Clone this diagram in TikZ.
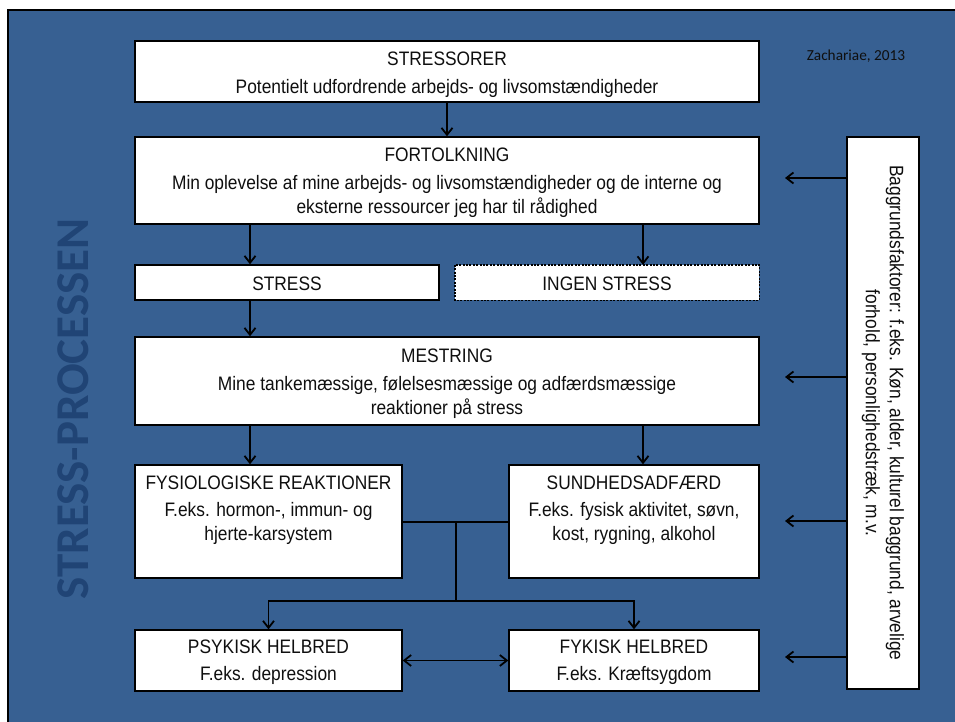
\documentclass[tikz,border=0pt]{standalone}
\usepackage{fontspec}
\setmainfont{Liberation Sans}
\newfontfamily\narrowfont[FakeStretch=0.89]{Liberation Sans}
\newfontfamily\califont{Carlito}
\usetikzlibrary{arrows.meta}
\definecolor{bgblue}{RGB}{55,96,146}
\definecolor{titleblue}{RGB}{32,68,117}
\definecolor{ink}{RGB}{15,15,15}
\tikzset{
  box/.style={draw=black, fill=white, line width=1.4pt, inner sep=0pt},
  boxtext/.style={inner sep=0pt, align=center, text=ink, font=\narrowfont\fontsize{19.5}{24}\selectfont},
  arr/.style={line width=1.8pt, -{Straight Barb[length=7pt,width=11pt,line width=1.8pt]}},
  dblarr/.style={line width=1.8pt, {Straight Barb[length=7pt,width=11pt,line width=1.8pt]}-{Straight Barb[length=7pt,width=11pt,line width=1.8pt]}},
  conn/.style={line width=2pt},
}
\begin{document}
\begin{tikzpicture}[x=1pt,y=-1pt]
\useasboundingbox (0,0) rectangle (955,722);
\fill[white] (0,0) rectangle (955,722);
\draw[fill=bgblue, line width=2.5pt] (8,10) rectangle (975,745);

% title and credit
\node[rotate=90, inner sep=0pt, text=titleblue, font=\califont\bfseries\fontsize{47}{50}\selectfont] (title) at (73,409) {STRESS-PROCESSEN};
\node[inner sep=0pt, text=ink, font=\califont\fontsize{15.3}{18}\selectfont] (zach) at (856,56) {Zachariae, 2013};

% boxes
\node[box, minimum width=624, minimum height=61] (sor) at (447,71.5) {};
\node[boxtext] (sortext) at ([yshift=-3]sor.center) {STRESSORER\\[4pt]Potentielt udfordrende arbejds- og livsomstændigheder};
\node[box, minimum width=624, minimum height=87] (fort) at (447,180.5) {};
\node[boxtext] (forttext) at ([yshift=-2.5]fort.center) {FORTOLKNING\\[4pt]Min oplevelse af mine arbejds- og livsomstændigheder og de interne og\\eksterne ressourcer jeg har til rådighed};
\node[box, minimum width=304, minimum height=35] (stress) at (287,282.5) {};
\node[boxtext] (stresstext) at ([yshift=-1]stress.center) {STRESS};
\node[fill=white, inner sep=0pt, minimum width=304, minimum height=35] (ingen) at (607,282.5) {};
\draw[line width=1.4pt, dash pattern=on 2pt off 1.4pt] (ingen.north west) rectangle (ingen.south east);
\node[boxtext] (ingentext) at ([yshift=-1]ingen.center) {INGEN STRESS};
\node[box, minimum width=624, minimum height=88] (mest) at (447,381) {};
\node[boxtext] (mesttext) at ([yshift=-2.5]mest.center) {MESTRING\\[4pt]Mine tankemæssige, følelsesmæssige og adfærdsmæssige\\reaktioner på stress};
\node[box, minimum width=267, minimum height=113] (fys) at (268.5,521.5) {};
\node[boxtext, anchor=north] (fystext) at ([yshift=-11.5]fys.north) {FYSIOLOGISKE REAKTIONER\\[3pt]F.eks. hormon-, immun- og\\hjerte-karsystem};
\node[box, minimum width=250, minimum height=113] (sund) at (634,521.5) {};
\node[boxtext, anchor=north] (sundtext) at ([yshift=-11.5]sund.north) {SUNDHEDSADFÆRD\\[3pt]F.eks. fysisk aktivitet, søvn,\\kost, rygning, alkohol};
\node[box, minimum width=267, minimum height=61] (psyk) at (268.5,660.5) {};
\node[boxtext] (psyktext) at ([yshift=-1.5]psyk.center) {PSYKISK HELBRED\\[3pt]F.eks. depression};
\node[box, minimum width=250, minimum height=61] (fyk) at (634,660.5) {};
\node[boxtext] (fyktext) at ([yshift=-1.5]fyk.center) {FYKISK HELBRED\\[3pt]F.eks. Kræftsygdom};
\node[box, minimum width=552, minimum height=72, rotate=-90, align=center, text=ink,
      font=\narrowfont\fontsize{19.5}{24}\selectfont] (bag) at (883,413) {Baggrundsfaktorer: f.eks. Køn, alder, kulturel baggrund, arvelige\\forhold, personlighedstræk, m.v.};

% helper coordinates
\coordinate (cl) at (250,0);
\coordinate (cr) at (643,0);
\coordinate (j) at (456,601);
\coordinate (b1) at (785,178);
\coordinate (b2) at (785,377);
\coordinate (b3) at (785,521);
\coordinate (b4) at (785,657);

% connectors
\draw[arr] (sor.south) -- (fort.north);
\draw[arr] (fort.south -| cl) -- (stress.north -| cl);
\draw[arr] (fort.south -| cr) -- (ingen.north -| cr);
\draw[arr] (stress.south -| cl) -- (mest.north -| cl);
\draw[arr] (mest.south -| cl) -- (fys.north -| cl);
\draw[arr] (mest.south -| cr) -- (sund.north -| cr);
\draw[conn] (fys.east) -- (sund.west);
\draw[conn] (fys.east -| j) -- (j);
\draw[arr] (j) -| (psyk.north);
\draw[arr] (j) -| (fyk.north);
\draw[dblarr] (psyk.east) -- (fyk.west);
\draw[arr] (bag.south |- b1) -- (b1);
\draw[arr] (bag.south |- b2) -- (b2);
\draw[arr] (bag.south |- b3) -- (b3);
\draw[arr] (bag.south |- b4) -- (b4);
\end{tikzpicture}
\end{document}
